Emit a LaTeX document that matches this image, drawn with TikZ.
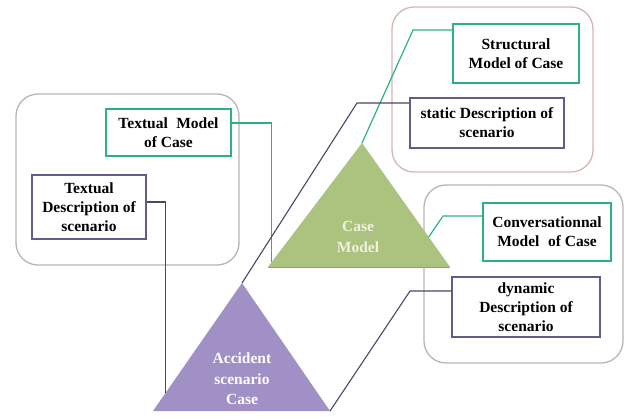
\documentclass[tikz,border=0pt]{standalone}
\usepackage{fontspec}
\setmainfont{Liberation Serif}
\usetikzlibrary{calc}

\definecolor{leaf}{RGB}{172,195,128}
\definecolor{lilac}{RGB}{160,144,198}
\definecolor{teal}{RGB}{44,178,128}
\definecolor{plum}{RGB}{78,68,100}
\definecolor{plumbox}{RGB}{104,90,134}
\definecolor{frame}{RGB}{182,182,182}
\definecolor{rosy}{RGB}{212,182,176}
\definecolor{cream}{RGB}{240,240,222}

\tikzset{
  group/.style={draw=frame, line width=1.3pt, rounded corners=22pt},
  modelbox/.style={draw=teal, line width=1.6pt, fill=white, align=center,
    font=\fontsize{15.5}{19}\selectfont\bfseries, inner sep=1pt},
  descbox/.style={draw=plumbox, line width=1.4pt, fill=white, align=center,
    font=\fontsize{15.5}{19}\selectfont\bfseries, inner sep=1pt},
  gline/.style={draw=teal, line width=1.2pt},
  pline/.style={draw=plum, line width=1.1pt},
  tritext/.style={align=center, font=\fontsize{15.5}{20.5}\selectfont\bfseries},
}

\begin{document}
\begin{tikzpicture}[x=1pt, y=-1pt]
\useasboundingbox (0,0) rectangle (629,418);

% group frames
\draw[group] (16,94) rectangle (239,265);
\draw[group, draw=rosy] (392,7) rectangle (593,172);
\draw[group] (424,185) rectangle (623,363);

% triangles
\coordinate (gapex) at (362,143);
\coordinate (gleft) at (268,267);
\coordinate (gright) at (450,267);
\fill[leaf] (gapex) -- (gleft) -- (gright) -- cycle;
\draw[leaf!85!black, line width=0.8pt] (gleft) -- (gright);
\node[tritext, text=cream] (casemodel) at (358,237) {Case\\Model};

\coordinate (papex) at (242,283);
\coordinate (pleft) at (153,411);
\coordinate (pright) at (330,411);
\fill[lilac] (papex) -- (pleft) -- (pright) -- cycle;
\node[tritext, text=white] (accident) at (242,379) {Accident\\scenario\\Case};

% text boxes
\node[modelbox, minimum width=125pt, minimum height=47pt] (txtmodel) at (168.5,132.5)
  {Textual\hspace{0.55em}Model\\of Case};
\node[descbox, minimum width=114pt, minimum height=64pt] (txtdesc) at (89,207)
  {Textual\\Description of\\scenario};
\node[modelbox, minimum width=126pt, minimum height=59pt] (structmodel) at (516,53.5)
  {Structural\\Model of Case};
\node[descbox, minimum width=154pt, minimum height=50pt] (staticdesc) at (487,123)
  {static Description of\\scenario};
\node[modelbox, minimum width=128pt, minimum height=58pt] (convmodel) at (547,232)
  {Conversationnal\\Model\hspace{0.55em}of Case};
\node[descbox, minimum width=148pt, minimum height=60pt] (dyndesc) at (526,307)
  {dynamic\\Description of\\scenario};

% bend points and edge points of the connectors
\coordinate (c1) at ($(gapex)!0.96!(gleft)$);
\coordinate (c2) at ($(papex)!0.86!(pleft)$);
\coordinate (k3) at (413,30);
\coordinate (k4) at (357,103);
\coordinate (k5) at (443,216);
\coordinate (c5) at ($(gapex)!0.758!(gright)$);
\coordinate (k6) at (410,291);

% connectors
\draw[gline] ([yshift=9.5pt]txtmodel.east) -| (c1);
\draw[pline] ([yshift=5pt]txtdesc.east) -| (c2);
\draw[gline] (gapex) -- (k3) -- ([yshift=23.5pt]structmodel.west);
\draw[pline] (papex) -- (k4) -- ([yshift=20pt]staticdesc.west);
\draw[gline] ([yshift=16pt]convmodel.west) -- (k5) -- (c5);
\draw[pline] ([yshift=16pt]dyndesc.west) -- (k6) -- (pright);
\end{tikzpicture}
\end{document}
